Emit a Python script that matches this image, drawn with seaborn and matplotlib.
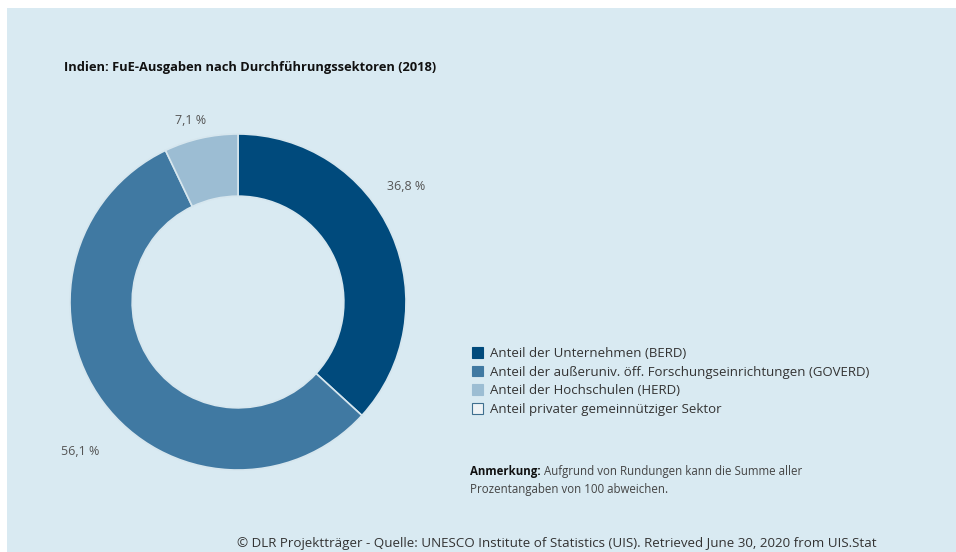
import matplotlib
matplotlib.use("Agg")
import matplotlib.pyplot as plt
import seaborn as sns
from matplotlib.patches import Rectangle, Patch

sns.set_theme(style="white")
plt.rcParams['font.family'] = ['Open Sans', 'DejaVu Sans']

categories = [
    "Anteil der Unternehmen (BERD)",
    "Anteil der außeruniv. öff. Forschungseinrichtungen (GOVERD)",
    "Anteil der Hochschulen (HERD)",
    "Anteil privater gemeinnütziger Sektor",
]
values = [36.8, 56.1, 7.1, 0.0]
value_labels = ["36,8 %", "56,1 %", "7,1 %", ""]
colors = ["#004a7c", "#4079a2", "#9cbdd3", "#eef3f6"]

title = "Indien: FuE-Ausgaben nach Durchführungssektoren (2018)"
note_bold = "Anmerkung:"
note_rest = " Aufgrund von Rundungen kann die Summe aller"
note_line2 = "Prozentangaben von 100 abweichen."
source = "© DLR Projektträger - Quelle: UNESCO Institute of Statistics (UIS). Retrieved June 30, 2020 from UIS.Stat"

W, H = 956, 552
bg = "#d9eaf2"
fig = plt.figure(figsize=(W / 100, H / 100), dpi=100)
fig.patch.set_facecolor("white")
fig.patches.append(Rectangle((7 / W, 0), 1 - 7 / W, 1 - 8 / H, transform=fig.transFigure,
                             facecolor=bg, edgecolor="none", zorder=-10))

# donut
cx, cy, R = 238, 302, 168
ax = fig.add_axes([(cx - R) / W, (H - cy - R) / H, 2 * R / W, 2 * R / H])
ax.set_facecolor("none")
draw_vals = [v for v in values if v > 0]
draw_cols = [c for v, c in zip(values, colors) if v > 0]
wedges, _ = ax.pie(draw_vals, colors=draw_cols, startangle=90, counterclock=False,
                   radius=1.0,
                   wedgeprops=dict(width=0.37, edgecolor="#d6e6ee", linewidth=1.2))
ax.set_xlim(-1, 1)
ax.set_ylim(-1, 1)
ax.axis("off")

# value labels (positions in axes fraction)
label_pos = {"36,8 %": (1.0, 0.845), "56,1 %": (0.03, 0.055), "7,1 %": (0.36, 1.04)}
for lab in value_labels:
    if lab:
        x, y = label_pos[lab]
        ax.text(x, y, lab, transform=ax.transAxes, ha="center", va="center",
                fontsize=9, color="#555555")

# title
fig.text(64 / W, 1 - 67 / H, title, fontsize=9.3, fontweight="bold", color="#111111",
         ha="left", va="center")

# legend
handles = [Patch(facecolor=c, edgecolor="#3f6f8f" if i == 3 else c, linewidth=0.8)
           for i, c in enumerate(colors)]
leg = fig.legend(handles, categories, loc="upper left",
                 bbox_to_anchor=(463 / W, 1 - 338 / H), frameon=False,
                 fontsize=9.5, handlelength=0.85, handleheight=0.85,
                 handletextpad=0.5, labelspacing=0.42, borderpad=0.2)
for t in leg.get_texts():
    t.set_color("#333333")

# note
fs_note = 8.3
t1 = fig.text(470 / W, 1 - 471 / H, note_bold, fontsize=fs_note, fontweight="bold",
              color="#111111", ha="left", va="center")
fig.canvas.draw()
bb = t1.get_window_extent()
fig.text(bb.x1 / W, 1 - 471 / H, note_rest, fontsize=fs_note, color="#444444",
         ha="left", va="center")
fig.text(470 / W, 1 - 490 / H, note_line2, fontsize=fs_note, color="#444444",
         ha="left", va="center")

# source
fig.text(557 / W, 1 - 543 / H, source, fontsize=9.6, color="#333333",
         ha="center", va="center")

fig.savefig("out.png", dpi=100, facecolor=fig.get_facecolor())
